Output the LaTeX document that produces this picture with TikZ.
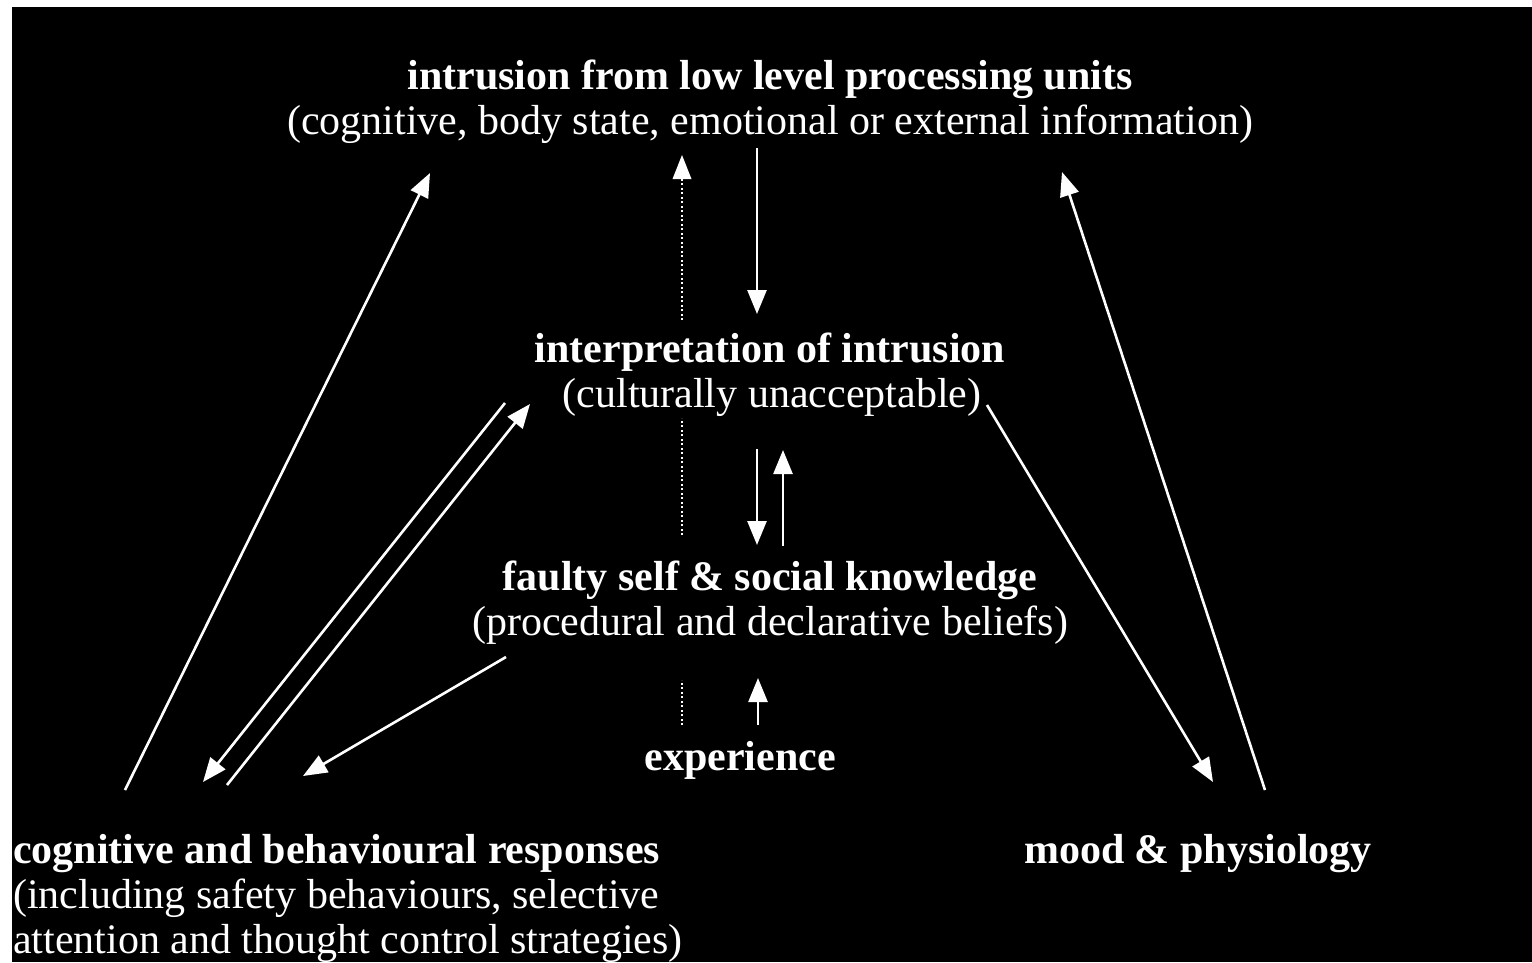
\documentclass[tikz,border=0pt]{standalone}
\usepackage{fontspec}
\setmainfont{Liberation Serif}
\usetikzlibrary{arrows.meta}
\begin{document}
\begin{tikzpicture}[x=1pt,y=-1pt,
  txt/.style={text=white,inner sep=0pt,anchor=base,font=\fontsize{42}{45}\selectfont},
  btxt/.style={txt,font=\fontsize{42}{45}\selectfont\bfseries},
  arr/.style={draw=white,line width=2.6pt,-{Triangle[length=24pt,width=19pt]}},
  dots/.style={draw=white,line width=2pt,dash pattern=on 2pt off 2.5pt}]
\useasboundingbox (0,0) rectangle (1532,962);
\fill[white] (0,0) rectangle (1532,962);
\fill[black] (12,7) rectangle (1532,962);
% texts
\node[btxt] (t1a) at (770,89) {intrusion from low level processing units};
\node[txt]  (t1b) at (770,134) {(cognitive, body state, emotional or external information)};
\node[btxt] (t2a) at (770,362) {interpretation of intrusion};
\node[txt]  (t2b) at (772,407) {(culturally unacceptable)};
\node[btxt] (t3a) at (770,590) {faulty self \& social knowledge};
\node[txt]  (t3b) at (770,635) {(procedural and declarative beliefs)};
\node[btxt] (t4) at (740,770) {experience};
\node[btxt,anchor=base west] (t5a) at (13,863) {cognitive and behavioural responses};
\node[txt,anchor=base west]  (t5b) at (13,908) {(including safety behaviours, selective};
\node[txt,anchor=base west]  (t5c) at (13,953) {attention and thought control strategies)};
\node[btxt] (t6) at (1198,863) {mood \& physiology};
% endpoints
\coordinate (a1s) at (125,790);  \coordinate (a1e) at (430,173);
\coordinate (d1s) at (682,320);  \coordinate (d1e) at (682,155);
\coordinate (d2s) at (682,535);  \coordinate (d2e) at (682,418);
\coordinate (d3s) at (682,725);  \coordinate (d3e) at (682,680);
\coordinate (a2s) at (757,148);  \coordinate (a2e) at (757,314);
\coordinate (a3s) at (757,449);  \coordinate (a3e) at (757,545);
\coordinate (a4s) at (783,546);  \coordinate (a4e) at (783,450);
\coordinate (a5s) at (758,725);  \coordinate (a5e) at (758,678);
\coordinate (a6s) at (505,403);  \coordinate (a6e) at (203,782);
\coordinate (a7s) at (227,785);  \coordinate (a7e) at (530,404);
\coordinate (a8s) at (506,657);  \coordinate (a8e) at (303,776);
\coordinate (a9s) at (987,405);  \coordinate (a9e) at (1213,782);
\coordinate (a10s) at (1265,790); \coordinate (a10e) at (1062,172);
% connectors
\draw[arr] (a1s) -- (a1e);
\draw[dots] (d1s) -- ([yshift=-22pt]d1e);
\fill[white] (d1e) -- ++(-9.5,24) -- ++(19,0) -- cycle;
\draw[dots] (d2s) -- (d2e);
\draw[dots] (d3s) -- (d3e);
\draw[arr] (a2s) -- (a2e);
\draw[arr] (a3s) -- (a3e);
\draw[arr] (a4s) -- (a4e);
\draw[arr] (a5s) -- (a5e);
\draw[arr] (a6s) -- (a6e);
\draw[arr] (a7s) -- (a7e);
\draw[arr] (a8s) -- (a8e);
\draw[arr] (a9s) -- (a9e);
\draw[arr] (a10s) -- (a10e);
\end{tikzpicture}
\end{document}
